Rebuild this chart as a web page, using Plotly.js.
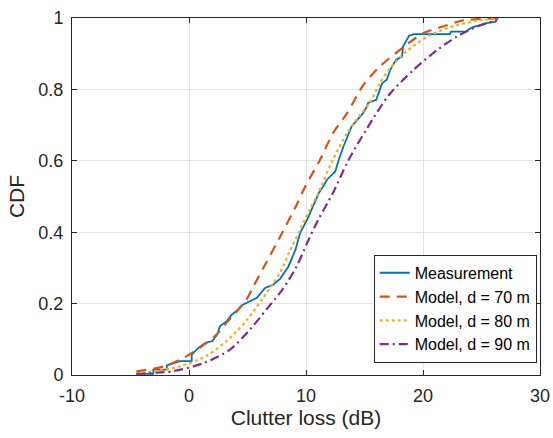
<!DOCTYPE html>
<html>
<head>
<meta charset="utf-8">
<script src="https://cdn.plot.ly/plotly-3.0.1.min.js"></script>
<style>html,body{margin:0;padding:0;background:#fff;}#chart{width:553px;height:438px;}</style>
</head>
<body>
<div id="chart"></div>
<script>
// Measurement (empirical CDF)
const measX = [-4.5, -3.05, -3.05, -1.9, -1.9, -0.77, 0.23, 0.23, 0.8, 1.4, 2.0, 2.4, 2.65, 3.2, 3.65, 4.2, 4.6, 5.8, 6.5, 7.2, 7.8, 8.5, 9.1, 9.5, 10.1, 10.6, 11.1, 11.5, 11.8, 12.05, 12.5, 12.8, 13.2, 13.9, 14.6, 14.9, 15.2, 15.3, 16.0, 16.5, 16.9, 17.2, 17.7, 18.2, 18.3, 18.6, 18.8, 19.2, 22.3, 22.4, 23.7, 23.9, 24.3, 24.9, 25.3, 26.2, 26.4];
const measY = [0.003, 0.003, 0.015, 0.015, 0.027, 0.039, 0.039, 0.057, 0.076, 0.09, 0.095, 0.113, 0.137, 0.15, 0.169, 0.183, 0.197, 0.216, 0.244, 0.253, 0.27, 0.304, 0.351, 0.398, 0.435, 0.472, 0.51, 0.53, 0.547, 0.556, 0.57, 0.603, 0.64, 0.696, 0.724, 0.734, 0.752, 0.762, 0.771, 0.817, 0.827, 0.855, 0.883, 0.892, 0.92, 0.938, 0.95, 0.955, 0.955, 0.962, 0.962, 0.968, 0.975, 0.98, 0.985, 0.99, 1.0];

// Model, d = 70 m
const m70X = [-4.5, -2.05, -0.2, 2.2, 3.2, 4.9, 5.5, 6.5, 7.8, 9.2, 9.9, 11.2, 12.3, 13.5, 14.9, 16.3, 18.0, 20.0, 21.7, 23.4, 26.4];
const m70Y = [0.01, 0.025, 0.053, 0.108, 0.146, 0.211, 0.248, 0.309, 0.388, 0.477, 0.526, 0.603, 0.677, 0.733, 0.812, 0.864, 0.91, 0.957, 0.976, 0.993, 0.999];

// Model, d = 80 m
const m80X = [-4.5, -2.9, -0.77, 1.5, 3.2, 4.9, 6.2, 7.8, 8.6, 9.5, 10.3, 11.05, 12.3, 13.5, 14.6, 15.5, 16.3, 17.2, 18.6, 20.6, 22.9, 24.9, 26.4];
const m80Y = [0.004, 0.011, 0.024, 0.054, 0.095, 0.152, 0.21, 0.288, 0.346, 0.407, 0.462, 0.51, 0.603, 0.677, 0.727, 0.765, 0.817, 0.86, 0.907, 0.952, 0.98, 0.994, 0.998];

// Model, d = 90 m
const m90X = [-4.5, -1.3, 1.3, 3.5, 5.2, 6.6, 8.0, 9.2, 10.1, 11.05, 12.3, 13.6, 15.2, 17.1, 19.2, 21.2, 22.9, 24.6, 26.3];
const m90Y = [0.003, 0.011, 0.034, 0.071, 0.127, 0.183, 0.24, 0.304, 0.37, 0.435, 0.51, 0.6, 0.69, 0.785, 0.855, 0.91, 0.948, 0.976, 0.993];

const xTicks = [-10, 0, 10, 20, 30];
const yTicks = [0, 0.2, 0.4, 0.6, 0.8, 1];
const yTickText = ['0', '0.2', '0.4', '0.6', '0.8', '1'];

const FONT = 'Liberation Sans, Arial, sans-serif';

const traces = [
  {x: measX, y: measY, name: 'Measurement', mode: 'lines', type: 'scatter',
   line: {color: '#0072BD', width: 1.8, shape: 'linear'}},
  {x: m70X, y: m70Y, name: 'Model, d = 70 m', mode: 'lines', type: 'scatter',
   line: {color: '#D95319', width: 2.2, dash: '10px,7px', shape: 'spline', smoothing: 0.8}},
  {x: m80X, y: m80Y, name: 'Model, d = 80 m', mode: 'lines', type: 'scatter',
   line: {color: '#EDB120', width: 2.2, dash: 'dot', shape: 'spline', smoothing: 0.8}},
  {x: m90X, y: m90Y, name: 'Model, d = 90 m', mode: 'lines', type: 'scatter',
   line: {color: '#7E2F8E', width: 2.2, dash: '9px,4px,2px,4px', shape: 'spline', smoothing: 0.8}}
];

const axisCommon = {
  showline: true, linecolor: '#262626', linewidth: 1, mirror: 'ticks',
  ticks: 'inside', ticklen: 5, tickcolor: '#262626', tickwidth: 1,
  showgrid: true, gridcolor: '#e3e3e3', gridwidth: 1, zeroline: false,
  tickfont: {family: FONT, size: 18, color: '#262626'}
};

const layout = {
  width: 553, height: 438,
  margin: {l: 72, r: 13, t: 18, b: 62.5, pad: 0},
  paper_bgcolor: '#ffffff', plot_bgcolor: '#ffffff',
  font: {family: FONT, size: 18, color: '#262626'},
  showlegend: true,
  xaxis: Object.assign({}, axisCommon, {
    range: [-10, 30], tickvals: xTicks, ticktext: xTicks.map(String),
    ticklabelstandoff: 4,
    title: {text: 'Clutter loss (dB)', font: {family: FONT, size: 21, color: '#262626'}, standoff: 2}
  }),
  yaxis: Object.assign({}, axisCommon, {
    range: [0, 1], tickvals: yTicks, ticktext: yTickText,
    ticklabelstandoff: 4,
    title: {text: 'CDF', font: {family: FONT, size: 21, color: '#262626'}, standoff: 8}
  }),
  legend: {
    x: 0.993, y: 0.034, xanchor: 'right', yanchor: 'bottom',
    bgcolor: '#ffffff', bordercolor: '#262626', borderwidth: 1,
    font: {family: FONT, size: 16, color: '#000000'}, tracegroupgap: 0
  }
};

Plotly.newPlot('chart', traces, layout, {displayModeBar: false, staticPlot: true});
</script>
</body>
</html>
